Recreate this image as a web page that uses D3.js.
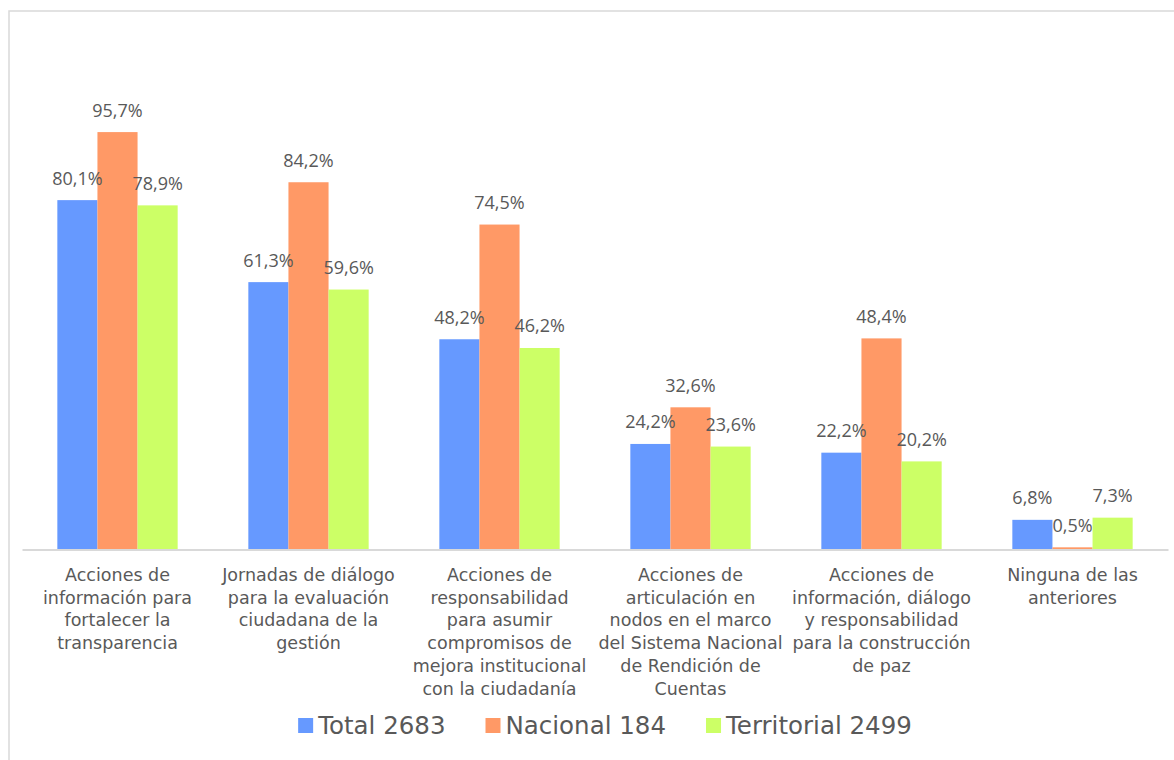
<!DOCTYPE html>
<html>
<head>
<meta charset="utf-8">
<script src="https://cdn.jsdelivr.net/npm/d3@7"></script>
<style>
  html, body { margin: 0; padding: 0; background: #fff; }
  svg { display: block; }
</style>
</head>
<body>
<svg id="chart" width="1174" height="760"></svg>
<script>
// ---- data ----
const categories = [
  "Acciones de información para fortalecer la transparencia",
  "Jornadas de diálogo para la evaluación ciudadana de la gestión",
  "Acciones de responsabilidad para asumir compromisos de mejora institucional con la ciudadanía",
  "Acciones de articulación en nodos en el marco del Sistema Nacional de Rendición de Cuentas",
  "Acciones de información, diálogo y responsabilidad para la construcción de paz",
  "Ninguna de las anteriores"
];
const tickLines = [
  ["Acciones de", "información para", "fortalecer la", "transparencia"],
  ["Jornadas de diálogo", "para la evaluación", "ciudadana de la", "gestión"],
  ["Acciones de", "responsabilidad", "para asumir", "compromisos de", "mejora institucional", "con la ciudadanía"],
  ["Acciones de", "articulación en", "nodos en el marco", "del Sistema Nacional", "de Rendición de", "Cuentas"],
  ["Acciones de", "información, diálogo", "y responsabilidad", "para la construcción", "de paz"],
  ["Ninguna de las", "anteriores"]
];
const seriesNames = ["Total 2683", "Nacional 184", "Territorial 2499"];
const totalValues = [80.1, 61.3, 48.2, 24.2, 22.2, 6.8];
const nacionalValues = [95.7, 84.2, 74.5, 32.6, 48.4, 0.5];
const territorialValues = [78.9, 59.6, 46.2, 23.6, 20.2, 7.3];
const seriesColors = ["#6699FF", "#FF9966", "#CCFF66"];

const seriesValues = [totalValues, nacionalValues, territorialValues];

// ---- layout ----
const svg = d3.select("#chart");
const plotLeft = 22, plotRight = 1168, plotTop = 26.1, baseY = 549.5;

// frame (only top/left visible in the crop)
svg.append("path")
  .attr("d", `M9,770 L9,11 L1180,11`)
  .attr("fill", "none")
  .attr("stroke", "#D9D9D9")
  .attr("stroke-width", 1.5);

const x0 = d3.scaleBand()
  .domain(categories)
  .range([plotLeft, plotRight])
  .paddingInner(0.37)
  .paddingOuter(0.185);

const x1 = d3.scaleBand()
  .domain(seriesNames)
  .range([0, x0.bandwidth()]);

const y = d3.scaleLinear().domain([0, 120]).range([baseY, plotTop]);

// bars
const groups = svg.append("g").selectAll("g")
  .data(categories)
  .join("g")
  .attr("transform", d => `translate(${x0(d)},0)`);

const barData = (cat, i) => seriesNames.map((s, k) => ({ s, k, v: seriesValues[k][i] }));

groups.each(function(cat, i) {
  const g = d3.select(this);
  const bd = barData(cat, i);
  g.selectAll("rect")
    .data(bd)
    .join("rect")
    .attr("x", d => x1(d.s))
    .attr("y", d => y(d.v))
    .attr("width", x1.bandwidth())
    .attr("height", d => baseY - y(d.v))
    .attr("fill", d => seriesColors[d.k]);
});

// axis
const axis = svg.append("g")
  .attr("transform", `translate(0,${baseY})`)
  .call(d3.axisBottom(x0).tickSize(0).tickFormat(""));
axis.select(".domain").attr("stroke", "#D9D9D9").attr("stroke-width", 2);

axis.selectAll(".tick").each(function(cat, i) {
  const t = d3.select(this).select("text");
  t.attr("y", 0).attr("dy", null)
    .attr("font-family", "'DejaVu Sans', sans-serif")
    .attr("font-size", 17.5)
    .attr("fill", "#595959")
    .attr("text-anchor", "middle");
  t.selectAll("tspan")
    .data(tickLines[i])
    .join("tspan")
    .attr("x", 0)
    .attr("y", (d, j) => 31.5 + j * 22.7)
    .text(d => d);
});

// data labels
groups.each(function(cat, i) {
  const g = d3.select(this);
  g.selectAll("text.lbl")
    .data(barData(cat, i))
    .join("text")
    .attr("class", "lbl")
    .attr("x", d => x1(d.s) + x1.bandwidth() / 2)
    .attr("y", d => y(d.v) - 15.5)
    .attr("text-anchor", "middle")
    .attr("font-family", "'Open Sans', sans-serif")
    .attr("font-size", 18)
    .attr("fill", "#595959")
    .text(d => d.v.toFixed(1).replace(".", ",") + "%");
});

// legend
const legend = svg.append("g");
const items = legend.selectAll("g")
  .data(seriesNames)
  .join("g");
items.append("rect")
  .attr("width", 15).attr("height", 15)
  .attr("y", 718)
  .attr("fill", (d, k) => seriesColors[k]);
items.append("text")
  .attr("x", 20)
  .attr("y", 734)
  .attr("font-family", "'DejaVu Sans', sans-serif")
  .attr("font-size", 24.5)
  .attr("fill", "#595959")
  .text(d => d);
const widths = [];
items.each(function() {
  const w = 20 + d3.select(this).select("text").node().getComputedTextLength();
  widths.push(w);
});
const spacing = 40;
const totalW = d3.sum(widths) + spacing * (widths.length - 1);
let startX = 605 - totalW / 2;
items.attr("transform", (d, k) => {
  const tx = startX;
  startX += widths[k] + spacing;
  return `translate(${tx},0)`;
});
</script>
</body>
</html>
